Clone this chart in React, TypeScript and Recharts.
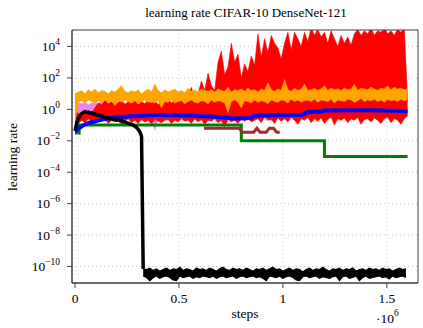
import {
  ComposedChart,
  Area,
  Line,
  XAxis,
  YAxis,
  CartesianGrid,
  ReferenceArea,
} from 'recharts';

// all y values are stored as log10(learning rate)
const NOISE_STEP = 16000; // spacing of the noisy runs (steps)

// red run: lower / upper envelope, x = i * NOISE_STEP
const redLo = [
  -1.4,
  -0.9, -0.7, -0.85, -0.6, -0.8, -0.95, -0.7, -0.75, -0.6, -0.9,
  -0.7, -0.8, -0.65, -1.0, -0.75, -0.6, -0.85, -0.7, -0.9, -0.65,
  -0.8, -0.7, -0.95, -0.6, -0.75, -0.85, -0.7, -0.65, -0.9, -0.7,
  -0.8, -0.6, -0.75,
  -0.7, -0.9, -0.6, -0.8, -0.65, -0.95, -0.7, -0.75, -0.6, -0.85,
  -0.7, -1.1, -0.65, -0.8, -0.7, -0.9, -0.6, -0.75, -0.55, -0.8,
  -0.7, -0.6, -0.85, -0.5, -0.7, -0.65, -0.9, -0.55, -0.75, -0.6,
  -0.8, -0.5, -0.7, -0.95, -0.6, -0.7, -0.5, -0.85, -0.6, -0.75,
  -0.55, -0.9, -0.65, -0.5, -1.0, -0.6, -0.7, -0.55, -0.85, -0.6,
  -0.7, -0.5, -0.95, -0.65, -0.6, -0.8, -0.55, -0.7, -0.9, -0.6,
  -0.5, -0.85, -0.6, -0.7, -0.95, -0.6,
  -0.4,
];
const redHi = [
  0.0,
  -0.3, -0.2, -0.35, -0.1, -0.25, 0.1,
  0.4, 0.3, 0.6, 0.35, 0.5, 0.2, 0.45, 0.6, 0.3, 0.5,
  0.4, 0.7, 0.3, 0.5, 0.35, 0.6, 0.4, 0.55, 0.3, 0.5,
  0.45, 0.7, 0.4, 0.6, 0.5, 0.8, 0.45,
  1.0, 1.4, 0.6, 1.0, 1.8, 1.2, 2.3, 1.5, 1.2, 3.0,
  3.7, 2.2, 2.7, 4.2, 3.0, 3.5, 2.0, 2.9, 2.4, 3.4,
  2.8, 4.8, 3.3, 4.5, 3.6, 4.7, 4.2, 3.9, 3.2, 4.2,
  4.9, 3.8, 4.9, 4.5, 4.0, 4.9, 4.3, 5.2, 4.7, 5.1,
  4.6, 4.9, 4.2, 5.0, 4.5, 4.0, 4.7, 4.2, 4.6, 4.1,
  4.8, 5.1, 4.7, 5.0, 4.8, 5.2, 4.7, 5.0, 4.9, 5.2,
  4.8, 5.0, 4.7, 5.1, 4.9, 5.2,
  0.5,
];

// orange run
const orangeLo = [
  -0.8,
  0.45, 0.55, 0.4, 0.6, 0.5, 0.35, 0.55, 0.45, 0.6, 0.4,
  0.5, 0.3, 0.55, 0.45, 0.6, 0.5, 0.4, 0.55, 0.35, 0.5,
  0.6, 0.45, 0.5, 0.4, 0.55, 0.1, 0.5, 0.45, 0.6, 0.4,
  0.5, 0.55, 0.35, 0.5, 0.6, 0.45, 0.4, 0.55, 0.5, 0.35,
  0.6, 0.45, 0.55, 0.5, 0.4, -0.2, 0.5, 0.6, 0.45, 0.1,
  0.55, 0.5, 0.4, 0.6, 0.45, 0.55, 0.5, 0.35, 0.6, 0.5,
  0.45, 0.6, 0.55, 0.4, 0.65, 0.5, 0.6, 0.45, 0.55, 0.6,
  0.5, 0.65, 0.45, 0.6, 0.55, 0.5, 0.65, 0.4, 0.6, 0.55,
  0.5, 0.65, 0.6, 0.45, 0.55, 0.7, 0.5, 0.6, 0.55, 0.65,
  0.5, 0.6, 0.45, 0.65, 0.55, 0.6, 0.5, 0.65, 0.55, 0.6,
];
const orangeHi = [
  1.0,
  1.1, 1.2, 1.0, 1.25, 1.1, 1.3, 1.05, 1.2, 1.15, 1.0,
  1.2, 1.1, 1.3, 1.5, 1.15, 1.05, 1.2, 1.1, 1.25, 1.0,
  1.15, 1.3, 1.1, 1.6, 1.2, 1.05, 1.25, 1.1, 1.2, 1.3,
  1.1, 1.2, 1.05, 1.35, 1.15, 1.25, 1.1, 1.3, 1.2, 1.15,
  1.25, 1.1, 1.3, 1.2, 1.15, 1.4, 1.1, 1.25, 1.2, 1.3,
  1.15, 1.35, 1.2, 1.25, 1.1, 1.3, 1.2, 1.7, 1.25, 1.15,
  1.3, 1.2, 1.9, 1.25, 1.15, 1.35, 1.2, 1.3, 1.6, 1.2,
  1.25, 1.35, 1.2, 1.3, 1.5, 1.2, 1.35, 1.25, 1.3, 1.2,
  1.35, 1.25, 1.3, 1.6, 1.2, 1.35, 1.3, 1.25, 1.4, 1.3,
  1.2, 1.35, 1.3, 1.5, 1.25, 1.4, 1.3, 1.35, 1.25, 1.3,
];

// violet run (mostly hidden under red), 0 .. 0.4e6
const violetLo = [
  -1.0, -0.6, -0.7, -0.5, -0.65, -0.55, -0.6, -0.5, -0.7, -0.6, -0.55, -0.65, -0.5,
  -0.6, -0.7, -0.55, -0.6, -0.5, -0.65, -0.6, -0.55, -0.7, -0.6, -0.65, -1.3, -0.6,
];
const violetHi = [
  0.3, 0.4, 0.35, 0.45, 0.3, 0.4, 0.35, 0.4, 0.45, 0.3, 0.4, 0.35, 0.45,
  0.4, 0.3, 0.4, 0.35, 0.45, 0.4, 0.3, 0.4, 0.35, 0.45, 0.4, 0.35, 0.4,
];

// blue run
const blueX = [0, 20000, 50000, 100000, 150000, 200000, 300000, 400000, 500000, 600000, 700000, 780000, 850000, 860000, 1000000, 1100000, 1115000, 1190000, 1200000, 1400000, 1600000];
const blueE = [-1.4, -1.2, -0.95, -0.75, -0.6, -0.5, -0.42, -0.36, -0.38, -0.42, -0.5, -0.58, -0.55, -0.4, -0.36, -0.32, -0.18, -0.14, -0.08, -0.06, -0.12];

// green run (step schedule)
const greenX = [0, 20000, 800000, 1200000, 1600000];
const greenE = [-1.5, -1.0, -2.0, -3.0, -3.0];

// brown run
const brownX = [620000, 790000, 805000, 860000, 875000, 890000, 920000, 935000, 955000, 970000, 985000];
const brownE = [-1.2, -1.2, -1.45, -1.45, -1.2, -1.45, -1.45, -1.2, -1.2, -1.45, -1.45];

// black run: warm-up part (step 8000 from 0), then the collapsed band
const BLACK_EARLY_STEP = 8000;
const blackEarly = [
  -1.35, -0.9, -0.6, -0.4, -0.28, -0.2, -0.15, -0.2, -0.18, -0.25,
  -0.22, -0.3, -0.28, -0.36, -0.34, -0.42, -0.4, -0.48, -0.5, -0.55,
  -0.53, -0.6, -0.58, -0.64, -0.62, -0.68, -0.66, -0.72, -0.7, -0.78,
  -0.8, -0.84, -0.88, -0.92, -0.95, -1.0, -1.08, -1.15, -1.28, -1.45,
  -1.7,
];
const BLACK_LATE_START = 328000;
const blackLateHi = [
  -10.15, -10.2, -10.1, -10.25, -10.15, -10.3, -10.2, -10.1, -10.25, -10.15,
  -10.2, -10.05, -10.25, -10.15, -10.2, -10.3, -10.1, -10.2, -10.15, -10.25,
  -10.1, -10.2, -10.3, -10.15, -10.05, -10.2, -10.25, -10.1, -10.2, -10.15,
  -10.25, -10.1, -10.2, -10.3, -10.15, -10.2, -10.1, -10.25, -10.15, -10.05,
  -10.2, -10.15, -10.3, -10.2, -10.1, -10.25, -10.15, -10.2, -10.35, -10.2,
  -10.1, -10.25, -10.15, -10.2, -10.05, -10.2, -10.3, -10.15, -10.2, -10.1,
  -10.25, -10.15, -10.2, -10.1, -10.3, -10.2, -10.15, -10.25, -10.1, -10.2,
  -10.15, -10.25, -10.1, -10.2, -10.15, -10.3, -10.2, -10.1, -10.2, -10.15,
];
const blackLateLo = [
  -10.6, -10.7, -10.9, -10.7, -10.6, -10.75, -10.65, -10.6, -10.7, -10.85,
  -10.9, -10.6, -10.7, -10.65, -10.6, -10.75, -10.65, -10.7, -10.6, -10.65,
  -10.7, -10.6, -10.75, -10.65, -10.6, -10.7, -10.65, -10.6, -10.75, -10.65,
  -10.6, -10.7, -10.65, -10.6, -10.7, -10.65, -10.75, -10.9, -10.6, -10.65,
  -10.7, -10.6, -10.75, -10.65, -10.6, -10.7, -10.85, -10.9, -10.65, -10.6,
  -10.7, -10.65, -10.6, -10.75, -10.65, -10.7, -10.75, -10.65, -10.6, -10.9,
  -10.65, -10.6, -10.75, -10.7, -10.6, -10.9, -10.7, -10.6, -10.75, -10.7,
  -10.65, -10.6, -10.7, -10.65, -10.8, -10.6, -10.7, -10.65, -10.6, -10.7,
];

const xTicks = [0, 500000, 1000000, 1500000];
const yTickExps = [-10, -8, -6, -4, -2, 0, 2, 4];

const X_MIN = -14500;
const X_MAX = 1650000;
const Y_MIN = Math.pow(10, -11.05);
const Y_MAX = Math.pow(10, 5.05);

const FONT = "'Liberation Serif', 'Times New Roman', serif";
const AXIS = '#404040';

const pow = (e: number) => Math.pow(10, e);

const band = (x0: number, step: number, lo: number[], hi: number[]) =>
  lo.map((l, i) => ({ x: x0 + i * step, v: [pow(l), pow(hi[i])] }));

const pts = (xs: number[], es: number[]) => xs.map((x, i) => ({ x, v: pow(es[i]) }));

const redData = band(0, NOISE_STEP, redLo, redHi);
const orangeData = band(0, NOISE_STEP, orangeLo, orangeHi);
const violetData = band(0, NOISE_STEP, violetLo, violetHi);
const blueData = pts(blueX, blueE);
const greenData = pts(greenX, greenE);
const brownData = pts(brownX, brownE);
const blackEarlyData = [
  ...blackEarly.map((e, i) => ({ x: i * BLACK_EARLY_STEP, v: pow(e) })),
  { x: BLACK_LATE_START, v: pow(blackLateHi[0]) },
];
const blackLateData = band(BLACK_LATE_START, NOISE_STEP, blackLateLo, blackLateHi);

function LogTick(props: any) {
  const { x, y, payload } = props;
  const e = Math.round(Math.log10(payload.value));
  const exp = e < 0 ? '\u2212' + Math.abs(e) : String(e);
  return (
    <text x={x} y={y} dy={4.5} textAnchor="end" fontFamily={FONT} fontSize={13.5} fill="#000">
      10
      <tspan dy={-6} fontSize={9.5}>
        {exp}
      </tspan>
    </text>
  );
}

export default function App() {
  return (
    <div style={{ position: 'absolute', left: 0, top: 0, background: '#fff' }}>
      <ComposedChart width={423} height={328} margin={{ top: 30, right: 5, bottom: 0, left: 12 }}>
        <CartesianGrid stroke="#c8c8c8" strokeDasharray="1 3" />
        <XAxis
          dataKey="x"
          type="number"
          domain={[X_MIN, X_MAX]}
          allowDataOverflow
          ticks={xTicks}
          height={45}
          tickSize={5}
          tickMargin={5}
          stroke={AXIS}
          tick={{ fill: '#000', fontSize: 13.5, fontFamily: FONT }}
          tickFormatter={(v) => String(v / 1000000)}
        />
        <YAxis
          type="number"
          scale="log"
          domain={[Y_MIN, Y_MAX]}
          allowDataOverflow
          ticks={yTickExps.map(pow)}
          width={60}
          tickSize={5}
          tickMargin={7}
          stroke={AXIS}
          tick={<LogTick />}
        />
        <Area data={violetData} dataKey="v" type="linear" stroke="#ee82ee" strokeWidth={0.6} fill="#ee82ee" fillOpacity={1} isAnimationActive={false} activeDot={false} />
        <Area data={redData} dataKey="v" type="linear" stroke="#ff0000" strokeWidth={0.6} fill="#ff0000" fillOpacity={1} isAnimationActive={false} activeDot={false} />
        <Area data={orangeData} dataKey="v" type="linear" stroke="#ffa500" strokeWidth={0.6} fill="#ffa500" fillOpacity={1} isAnimationActive={false} activeDot={false} />
        <Line data={greenData} dataKey="v" type="stepAfter" stroke="#008000" strokeWidth={3} dot={false} isAnimationActive={false} />
        <Line data={brownData} dataKey="v" type="linear" stroke="#a52a2a" strokeWidth={3} dot={false} isAnimationActive={false} />
        <Line data={blueData} dataKey="v" type="monotone" stroke="#0000ff" strokeWidth={4} dot={false} isAnimationActive={false} />
        <Line data={blackEarlyData} dataKey="v" type="linear" stroke="#000" strokeWidth={3.5} dot={false} isAnimationActive={false} />
        <Area data={blackLateData} dataKey="v" type="linear" stroke="#000" strokeWidth={1.2} fill="#000" fillOpacity={1} isAnimationActive={false} activeDot={false} />
        <ReferenceArea x1={X_MIN} x2={X_MAX} y1={Y_MIN} y2={Y_MAX} fill="none" fillOpacity={0} stroke={AXIS} strokeWidth={1} />
        <text x={246} y={16.5} textAnchor="middle" fontFamily={FONT} fontSize={13} fill="#000">
          learning rate CIFAR-10 DenseNet-121
        </text>
        <text x={245} y={318} textAnchor="middle" fontFamily={FONT} fontSize={13.5} fill="#000">
          steps
        </text>
        <text x={376} y={323} fontFamily={FONT} fontSize={13.5} fill="#000">
          {'\u00b710'}
          <tspan dy={-7} fontSize={9.5}>
            6
          </tspan>
        </text>
        <text x={17} y={157} transform="rotate(-90, 17, 157)" textAnchor="middle" fontFamily={FONT} fontSize={13.5} fill="#000">
          learning rate
        </text>
      </ComposedChart>
    </div>
  );
}
